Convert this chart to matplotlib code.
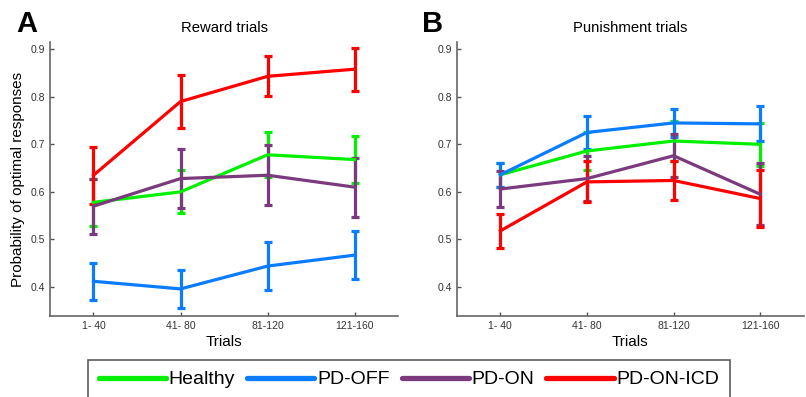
import numpy as np
import matplotlib
matplotlib.use("Agg")
from matplotlib import pyplot as plt

plt.rcParams['font.family'] = ['Liberation Sans', 'DejaVu Sans']

trials = ['1- 40', '41- 80', '81-120', '121-160']
groups = ['Healthy', 'PD-OFF', 'PD-ON', 'PD-ON-ICD']
colors = ['#00f000', '#0a7cff', '#7b3a7e', '#ff0000']

# reward trials: means and error half-widths
reward_mean = {
    'Healthy':   [0.578, 0.600, 0.678, 0.668],
    'PD-OFF':    [0.412, 0.396, 0.444, 0.467],
    'PD-ON':     [0.570, 0.628, 0.635, 0.610],
    'PD-ON-ICD': [0.635, 0.790, 0.843, 0.858],
}
reward_err = {
    'Healthy':   [0.050, 0.045, 0.047, 0.050],
    'PD-OFF':    [0.039, 0.040, 0.050, 0.051],
    'PD-ON':     [0.058, 0.062, 0.063, 0.062],
    'PD-ON-ICD': [0.060, 0.055, 0.042, 0.045],
}

# punishment trials
punish_mean = {
    'Healthy':   [0.636, 0.686, 0.707, 0.700],
    'PD-OFF':    [0.636, 0.725, 0.745, 0.743],
    'PD-ON':     [0.606, 0.628, 0.676, 0.595],
    'PD-ON-ICD': [0.518, 0.621, 0.624, 0.586],
}
punish_err = {
    'Healthy':   [0.025, 0.040, 0.042, 0.045],
    'PD-OFF':    [0.025, 0.035, 0.030, 0.037],
    'PD-ON':     [0.038, 0.047, 0.045, 0.065],
    'PD-ON-ICD': [0.036, 0.043, 0.041, 0.060],
}


def panel(ax, means, errs, title, ylabel=None):
    x = np.arange(1, len(trials) + 1)
    for g, c in zip(groups, colors):
        ax.errorbar(x, means[g], yerr=errs[g], color=c, lw=2.3, capsize=3,
                    capthick=2.3, label=g)
    ax.set_xlim(0.5, 4.5)
    ax.set_ylim(0.339, 0.915)
    ax.set_yticks([0.4, 0.5, 0.6, 0.7, 0.8, 0.9])
    ax.set_xticks(x)
    ax.set_xticklabels(trials)
    ax.tick_params(direction='in', length=3, width=1, colors='#555555',
                   labelsize=7.5, labelcolor='#333333')
    for s in ['top', 'right']:
        ax.spines[s].set_visible(False)
    for s in ['left', 'bottom']:
        ax.spines[s].set_color('#666666')
        ax.spines[s].set_linewidth(1.2)
    ax.set_title(title, fontsize=10.7, pad=7)
    ax.set_xlabel('Trials', fontsize=11, labelpad=3)
    if ylabel:
        ax.set_ylabel(ylabel, fontsize=11, labelpad=4)


fig = plt.figure(figsize=(8.06, 3.97), dpi=100)
axA = fig.add_axes([0.062, 0.204, 0.432, 0.69])
axB = fig.add_axes([0.567, 0.204, 0.43, 0.69])

panel(axA, reward_mean, reward_err, 'Reward trials',
      ylabel='Probability of optimal responses')
panel(axB, punish_mean, punish_err, 'Punishment trials')

fig.text(0.02, 0.94, 'A', fontsize=21, fontweight='bold', va='center')
fig.text(0.524, 0.94, 'B', fontsize=21, fontweight='bold', va='center')

handles = [plt.Line2D([], [], color=c, lw=3.8, solid_capstyle='round') for c in colors]
leg = fig.legend(handles, groups, loc='upper left', bbox_to_anchor=(0.109, 0.093),
                 ncol=4, frameon=True, fancybox=False, handlelength=3.45,
                 handletextpad=0.15, columnspacing=0.62, borderaxespad=0,
                 borderpad=0.55, prop={'size': 14})
leg.get_frame().set_edgecolor('#333333')
leg.get_frame().set_linewidth(1.2)

fig.savefig('out.png', dpi=100)
